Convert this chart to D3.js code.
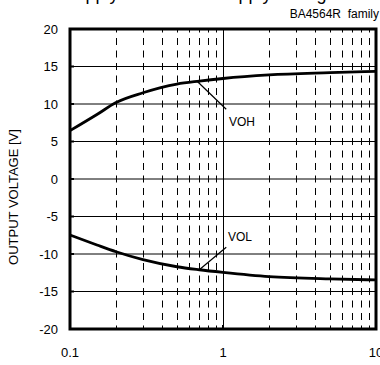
<!DOCTYPE html>
<html><head><meta charset="utf-8">
<script src="https://cdn.jsdelivr.net/npm/d3@7"></script>
<style>
html,body{margin:0;padding:0;background:#fff;}
svg{display:block;font-family:"Liberation Sans",Arial,sans-serif;}
</style></head>
<body>
<svg id="chart" width="380" height="365"></svg>
<script>
const xTicks = [0.1, 1, 10];
const xTickLabels = ["0.1", "1", "10"];
const yTicks = [-20, -15, -10, -5, 0, 5, 10, 15, 20];
const minorX = [0.2,0.3,0.4,0.5,0.6,0.7,0.8,0.9,2,3,4,5,6,7,8,9];
const vohX = [0.1, 0.15, 0.2, 0.3, 0.5, 0.7, 1, 2, 5, 10];
const vohY = [6.45, 8.6, 10.2, 11.5, 12.65, 13.05, 13.4, 13.87, 14.17, 14.35];
const volX = [0.1, 0.15, 0.2, 0.3, 0.5, 0.7, 1, 2, 5, 10];
const volY = [-7.47, -8.8, -9.7, -10.75, -11.7, -12.1, -12.45, -13.02, -13.33, -13.45];
const seriesNames = ["VOH", "VOL"];

const svg = d3.select("#chart");
const L = 70, R = 376, T = 29, B = 329;
const x = d3.scaleLog().domain([0.1, 10]).range([L, R]);
const y = d3.scaleLinear().domain([-20, 20]).range([B, T]);

// title (mostly clipped at top)
svg.append("text").attr("x", 200).attr("y", -0.5).attr("text-anchor", "middle")
  .attr("font-size", 18).text("Supply Current vs. Supply Voltage");

svg.append("text").attr("x", 379).attr("y", 18).attr("text-anchor", "end")
  .attr("font-size", 12).style("white-space", "pre").text("BA4564R  family");

// horizontal grid
svg.append("g").selectAll("line").data(yTicks.filter(d => d > -20 && d < 20)).join("line")
  .attr("x1", L).attr("x2", R).attr("y1", d => y(d)).attr("y2", d => y(d))
  .attr("stroke", "#000").attr("stroke-width", 1);

// dashed minor verticals
svg.append("g").selectAll("line").data(minorX).join("line")
  .attr("x1", d => Math.round(x(d)) + 0.5).attr("x2", d => Math.round(x(d)) + 0.5)
  .attr("y1", T).attr("y2", B)
  .attr("stroke", "#000").attr("stroke-width", 1)
  .attr("stroke-dasharray", "7 5.5").attr("stroke-dashoffset", 3.5);

// solid vertical at 1
svg.append("line").attr("x1", Math.round(x(1)) + 0.5).attr("x2", Math.round(x(1)) + 0.5)
  .attr("y1", T).attr("y2", B).attr("stroke", "#000").attr("stroke-width", 1);

// left inward ticks
svg.append("g").selectAll("line").data(yTicks).join("line")
  .attr("x1", L).attr("x2", L + 4).attr("y1", d => y(d)).attr("y2", d => y(d))
  .attr("stroke", "#000").attr("stroke-width", 2);
svg.append("g").selectAll("line").data(xTicks).join("line")
  .attr("x1", d => x(d)).attr("x2", d => x(d)).attr("y1", B).attr("y2", B - 4)
  .attr("stroke", "#000").attr("stroke-width", 2);

// frame
svg.append("rect").attr("x", L).attr("y", T).attr("width", R - L).attr("height", B - T)
  .attr("fill", "none").attr("stroke", "#000").attr("stroke-width", 3);

// curves
const line = d3.line().x(d => x(d[0])).y(d => y(d[1])).curve(d3.curveMonotoneX);
svg.append("path").datum(vohX.map((d, i) => [d, vohY[i]])).attr("d", line)
  .attr("fill", "none").attr("stroke", "#000").attr("stroke-width", 2.8);
svg.append("path").datum(volX.map((d, i) => [d, volY[i]])).attr("d", line)
  .attr("fill", "none").attr("stroke", "#000").attr("stroke-width", 2.8);

// leader lines & labels
svg.append("line").attr("x1", x(0.68)).attr("y1", y(13.0)).attr("x2", x(1.05)).attr("y2", y(9.3))
  .attr("stroke", "#000").attr("stroke-width", 1.2);
svg.append("text").attr("x", 229).attr("y", 126).attr("font-size", 12).text(seriesNames[0]);
svg.append("line").attr("x1", x(0.7)).attr("y1", y(-12.1)).attr("x2", x(1.05)).attr("y2", y(-9.1))
  .attr("stroke", "#000").attr("stroke-width", 1.2);
svg.append("text").attr("x", 228).attr("y", 241).attr("font-size", 12).text(seriesNames[1]);

// y tick labels
svg.append("g").selectAll("text").data(yTicks).join("text")
  .attr("x", 58).attr("y", d => y(d) + 4.5).attr("text-anchor", "end")
  .attr("font-size", 13).text(d => d);

// x tick labels
svg.append("g").selectAll("text").data(xTicks).join("text")
  .attr("x", d => x(d)).attr("y", 357).attr("text-anchor", "middle")
  .attr("font-size", 13).text((d, i) => xTickLabels[i]);

// y title
svg.append("text").attr("transform", "translate(18,197) rotate(-90)")
  .attr("text-anchor", "middle").attr("font-size", 13).text("OUTPUT VOLTAGE [V]");
</script>
</body></html>
